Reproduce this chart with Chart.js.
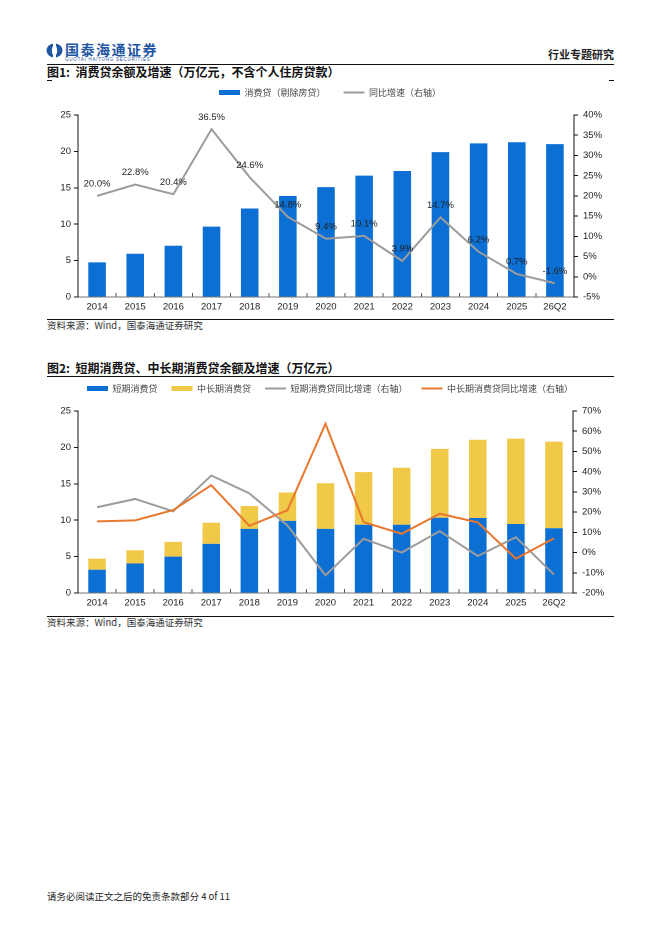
<!DOCTYPE html>
<html>
<head>
<meta charset="utf-8">
<script src="https://cdn.jsdelivr.net/npm/chart.js@4.4.1/dist/chart.umd.min.js"></script>
<style>
body { margin: 0; width: 662px; height: 936px; background: #fff; position: relative; overflow: hidden; font-family: "Noto Sans CJK SC", sans-serif; color: #111; }
.abs { position: absolute; white-space: nowrap; line-height: 1; }
.rule { position: absolute; height: 1px; background: #111; }
.title { font-size: 12px; font-weight: bold; }
.src { font-size: 9.5px; color: #333; }
canvas { position: absolute; }
</style>
</head>
<body>

<svg class="abs" style="left:46px;top:43px" width="17" height="15" viewBox="0 0 17 15">
  <ellipse cx="8.5" cy="7.5" rx="8" ry="7" fill="#1f56a3"/>
  <rect x="7" y="0" width="3" height="15" fill="#fff"/>
  <ellipse cx="8.5" cy="7.5" rx="2.6" ry="5" fill="#fff"/>
</svg>
<div class="abs" style="left:65px;top:42px;font-size:14px;font-weight:bold;color:#1f56a3;letter-spacing:1.5px">国泰海通证券</div>
<div class="abs" style="left:65px;top:57.5px;font-size:4.5px;color:#1f56a3;letter-spacing:0.75px;font-family:'Liberation Sans',Arial">GUOTAI HAITONG SECURITIES</div>
<div class="abs" style="right:48px;top:49px;font-size:11px;font-weight:bold;color:#222">行业专题研究</div>
<div class="rule" style="left:47px;width:567px;top:64px"></div>

<div class="abs title" style="left:47px;top:66px">图1:&nbsp; 消费贷余额及增速（万亿元，不含个人住房贷款）</div>
<div class="rule" style="left:47px;width:5px;top:80px"></div>
<div class="rule" style="left:609px;width:5px;top:80px"></div>

<canvas id="c1" style="left:40px;top:70px" width="580" height="246"></canvas>
<div class="rule" style="left:47px;width:567px;top:319px"></div>
<div class="abs src" style="left:47px;top:321px">资料来源：Wind，国泰海通证券研究</div>

<div class="abs title" style="left:47px;top:362px">图2:&nbsp; 短期消费贷、中长期消费贷余额及增速（万亿元）</div>
<div class="rule" style="left:47px;width:567px;top:376px"></div>

<canvas id="c2" style="left:40px;top:370px" width="580" height="242"></canvas>
<div class="rule" style="left:47px;width:567px;top:616px"></div>
<div class="abs src" style="left:47px;top:618px">资料来源：Wind，国泰海通证券研究</div>

<div class="abs" style="left:47px;top:892px;font-size:9.5px;color:#222">请务必阅读正文之后的免责条款部分 4 of 11</div>

<script>
// categories
const years = ['2014', '2015', '2016', '2017', '2018', '2019', '2020', '2021', '2022', '2023', '2024', '2025', '26Q2'];

// chart 1: consumer loan balance (trn yuan) and yoy growth (%)
const loanBalance = [4.75, 5.94, 7.04, 9.67, 12.15, 13.87, 15.1, 16.67, 17.3, 19.9, 21.1, 21.25, 21.0];
const loanGrowth = [20.0, 22.8, 20.4, 36.5, 24.6, 14.8, 9.4, 10.1, 3.9, 14.7, 6.2, 0.7, -1.6];

// chart 2: short term vs mid/long term
const shortTerm = [3.2, 4.05, 5.0, 6.75, 8.8, 9.9, 8.8, 9.37, 9.37, 10.34, 10.3, 9.47, 8.9];
const longTerm = [1.53, 1.83, 2.03, 2.9, 3.15, 3.9, 6.27, 7.23, 7.83, 9.46, 10.75, 11.73, 11.9];
const shortGrowth = [22.4, 26.5, 20.4, 38.1, 29.3, 13.4, -11.3, 6.8, 0.0, 10.6, -1.7, 7.6, -10.9];
const longGrowth = [15.4, 15.9, 21.0, 33.3, 13.2, 20.9, 63.7, 15.1, 9.3, 19.2, 14.9, -3.0, 7.0];

const BLUE = '#0b6fd4';
const YELLOW = '#f0c949';
const GRAY = '#9c9c9c';
const ORANGE = '#e9782f';
const latin = '"Liberation Sans", Arial, sans-serif';
const cjk = '"Noto Sans CJK SC", sans-serif';

// keep the legend strip a fixed height so the plot box lands where the page wants it
const legendBox = {
	id: 'legendBox',
	beforeLayout(chart, args, opts) {
		const lg = chart.legend;
		if (!lg || lg._fixed) return;
		const fit = lg.fit;
		lg.fit = function () {
			fit.call(this);
			this.height = opts.height;
		};
		lg._fixed = true;
	}
};

// percent labels above the growth line
const pointLabels = {
	id: 'pointLabels',
	afterDatasetsDraw(chart, args, opts) {
		if (opts.dataset === undefined) return;
		const {ctx} = chart;
		const meta = chart.getDatasetMeta(opts.dataset);
		const values = chart.data.datasets[opts.dataset].data;
		ctx.save();
		ctx.font = '9.5px ' + latin;
		ctx.fillStyle = '#222';
		ctx.textAlign = 'center';
		ctx.textBaseline = 'middle';
		meta.data.forEach((pt, i) => {
			ctx.fillText(values[i].toFixed(1) + '%', pt.x, pt.y - 12);
		});
		ctx.restore();
	}
};

function xAxis() {
	return {
		offset: true,
		grid: {display: true, drawOnChartArea: false, offset: true, tickLength: -4, color: '#555'},
		border: {color: '#777'},
		ticks: {font: {family: latin, size: 9.5}, color: '#222', padding: 8, autoSkip: false, maxRotation: 0},
		afterFit(scale) { scale.height = 19; }
	};
}

function sideAxis(pos, min, max, step, width, pct, stacked) {
	return {
		position: pos,
		min: min,
		max: max,
		stacked: stacked,
		grid: {drawOnChartArea: false, tickLength: 4, color: '#111'},
		border: {color: '#111'},
		ticks: {
			stepSize: step,
			font: {family: latin, size: 9.5},
			color: '#222',
			padding: pos === 'left' ? 3 : 5,
			callback: v => pct ? v + '%' : v
		},
		afterFit(scale) { scale.width = width; }
	};
}

function legendOpts(pad) {
	return {
		position: 'top',
		labels: {
			usePointStyle: true,
			pointStyleWidth: 21,
			boxHeight: 5,
			padding: pad,
			color: '#444',
			font: {family: cjk, size: 9},
			sort: (a, b) => a.datasetIndex - b.datasetIndex
		}
	};
}

new Chart(document.getElementById('c1'), {
	type: 'bar',
	data: {
		labels: years,
		datasets: [
			{
				label: '消费贷（剔除房贷）',
				data: loanBalance,
				yAxisID: 'y',
				backgroundColor: BLUE,
				pointStyle: 'rect',
				barPercentage: 0.46,
				categoryPercentage: 1,
				order: 1
			},
			{
				type: 'line',
				label: '同比增速（右轴）',
				data: loanGrowth,
				yAxisID: 'y1',
				borderColor: GRAY,
				backgroundColor: GRAY,
				borderWidth: 2,
				pointRadius: 0,
				pointStyle: 'line',
				tension: 0,
				order: 0
			}
		]
	},
	options: {
		responsive: false,
		animation: false,
		devicePixelRatio: 2,
		layout: {padding: 0},
		scales: {
			x: xAxis(),
			y: sideAxis('left', 0, 25, 5, 38, false),
			y1: sideAxis('right', -5, 40, 5, 46, true)
		},
		plugins: {
			legend: legendOpts(18),
			tooltip: {enabled: false},
			legendBox: {height: 45},
			pointLabels: {dataset: 1}
		}
	},
	plugins: [legendBox, pointLabels]
});

new Chart(document.getElementById('c2'), {
	type: 'bar',
	data: {
		labels: years,
		datasets: [
			{
				label: '短期消费贷',
				data: shortTerm,
				yAxisID: 'y',
				backgroundColor: BLUE,
				pointStyle: 'rect',
				barPercentage: 0.46,
				categoryPercentage: 1,
				stack: 'loans',
				order: 2
			},
			{
				label: '中长期消费贷',
				data: longTerm,
				yAxisID: 'y',
				backgroundColor: YELLOW,
				pointStyle: 'rect',
				barPercentage: 0.46,
				categoryPercentage: 1,
				stack: 'loans',
				order: 2
			},
			{
				type: 'line',
				label: '短期消费贷同比增速（右轴）',
				data: shortGrowth,
				yAxisID: 'y1',
				borderColor: GRAY,
				backgroundColor: GRAY,
				borderWidth: 2,
				pointRadius: 0,
				pointStyle: 'line',
				tension: 0,
				order: 1
			},
			{
				type: 'line',
				label: '中长期消费贷同比增速（右轴）',
				data: longGrowth,
				yAxisID: 'y1',
				borderColor: ORANGE,
				backgroundColor: ORANGE,
				borderWidth: 2,
				pointRadius: 0,
				pointStyle: 'line',
				tension: 0,
				order: 0
			}
		]
	},
	options: {
		responsive: false,
		animation: false,
		devicePixelRatio: 2,
		layout: {padding: 0},
		scales: {
			x: Object.assign(xAxis(), {stacked: true}),
			y: sideAxis('left', 0, 25, 5, 38, false, true),
			y1: sideAxis('right', -20, 70, 10, 47, true, false)
		},
		plugins: {
			legend: legendOpts(14),
			tooltip: {enabled: false},
			legendBox: {height: 41}
		}
	},
	plugins: [legendBox]
});
</script>
</body>
</html>
